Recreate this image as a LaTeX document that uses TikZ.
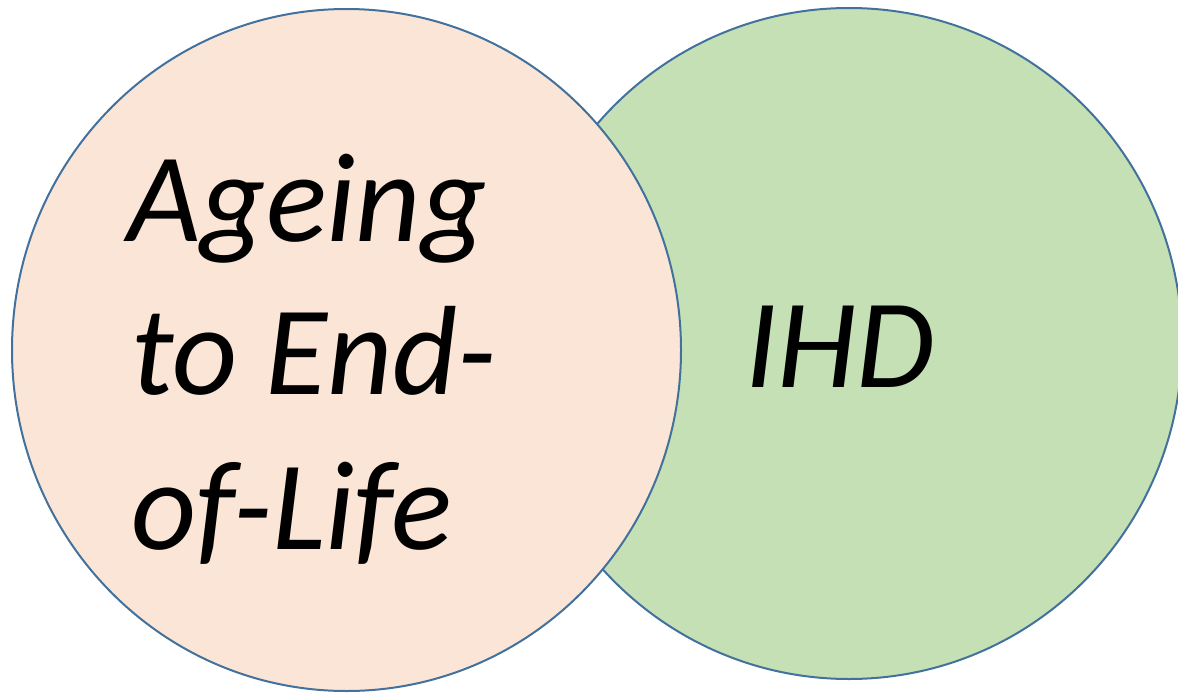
\documentclass[tikz,border=0pt]{standalone}
\usepackage{fontspec}
\setmainfont{Carlito}
\definecolor{edgeblue}{HTML}{41719C}
\definecolor{peach}{HTML}{FBE5D6}
\definecolor{leaf}{HTML}{C5E0B4}
\begin{document}
\begin{tikzpicture}[x=1pt,y=-1pt,
  setbox/.style={draw=edgeblue,line width=2pt},
  bigtext/.style={inner sep=0pt,anchor=base west,font=\itshape\fontsize{127}{154}\selectfont}]
\useasboundingbox (0,0) rectangle (1178,693);
\draw[setbox,fill=leaf] (849,343.5) ellipse [x radius=333,y radius=335.5];
\draw[setbox,fill=peach] (346.5,350) ellipse [x radius=334.5,y radius=341];
\node[bigtext] (l1) at (127,241) {Ageing};
\node[bigtext] (l2) at (131,394) {to End-};
\node[bigtext] (l3) at (131,549) {of-Life};
\node[bigtext] (ihd) at (745,387) {IHD};
\end{tikzpicture}
\end{document}
